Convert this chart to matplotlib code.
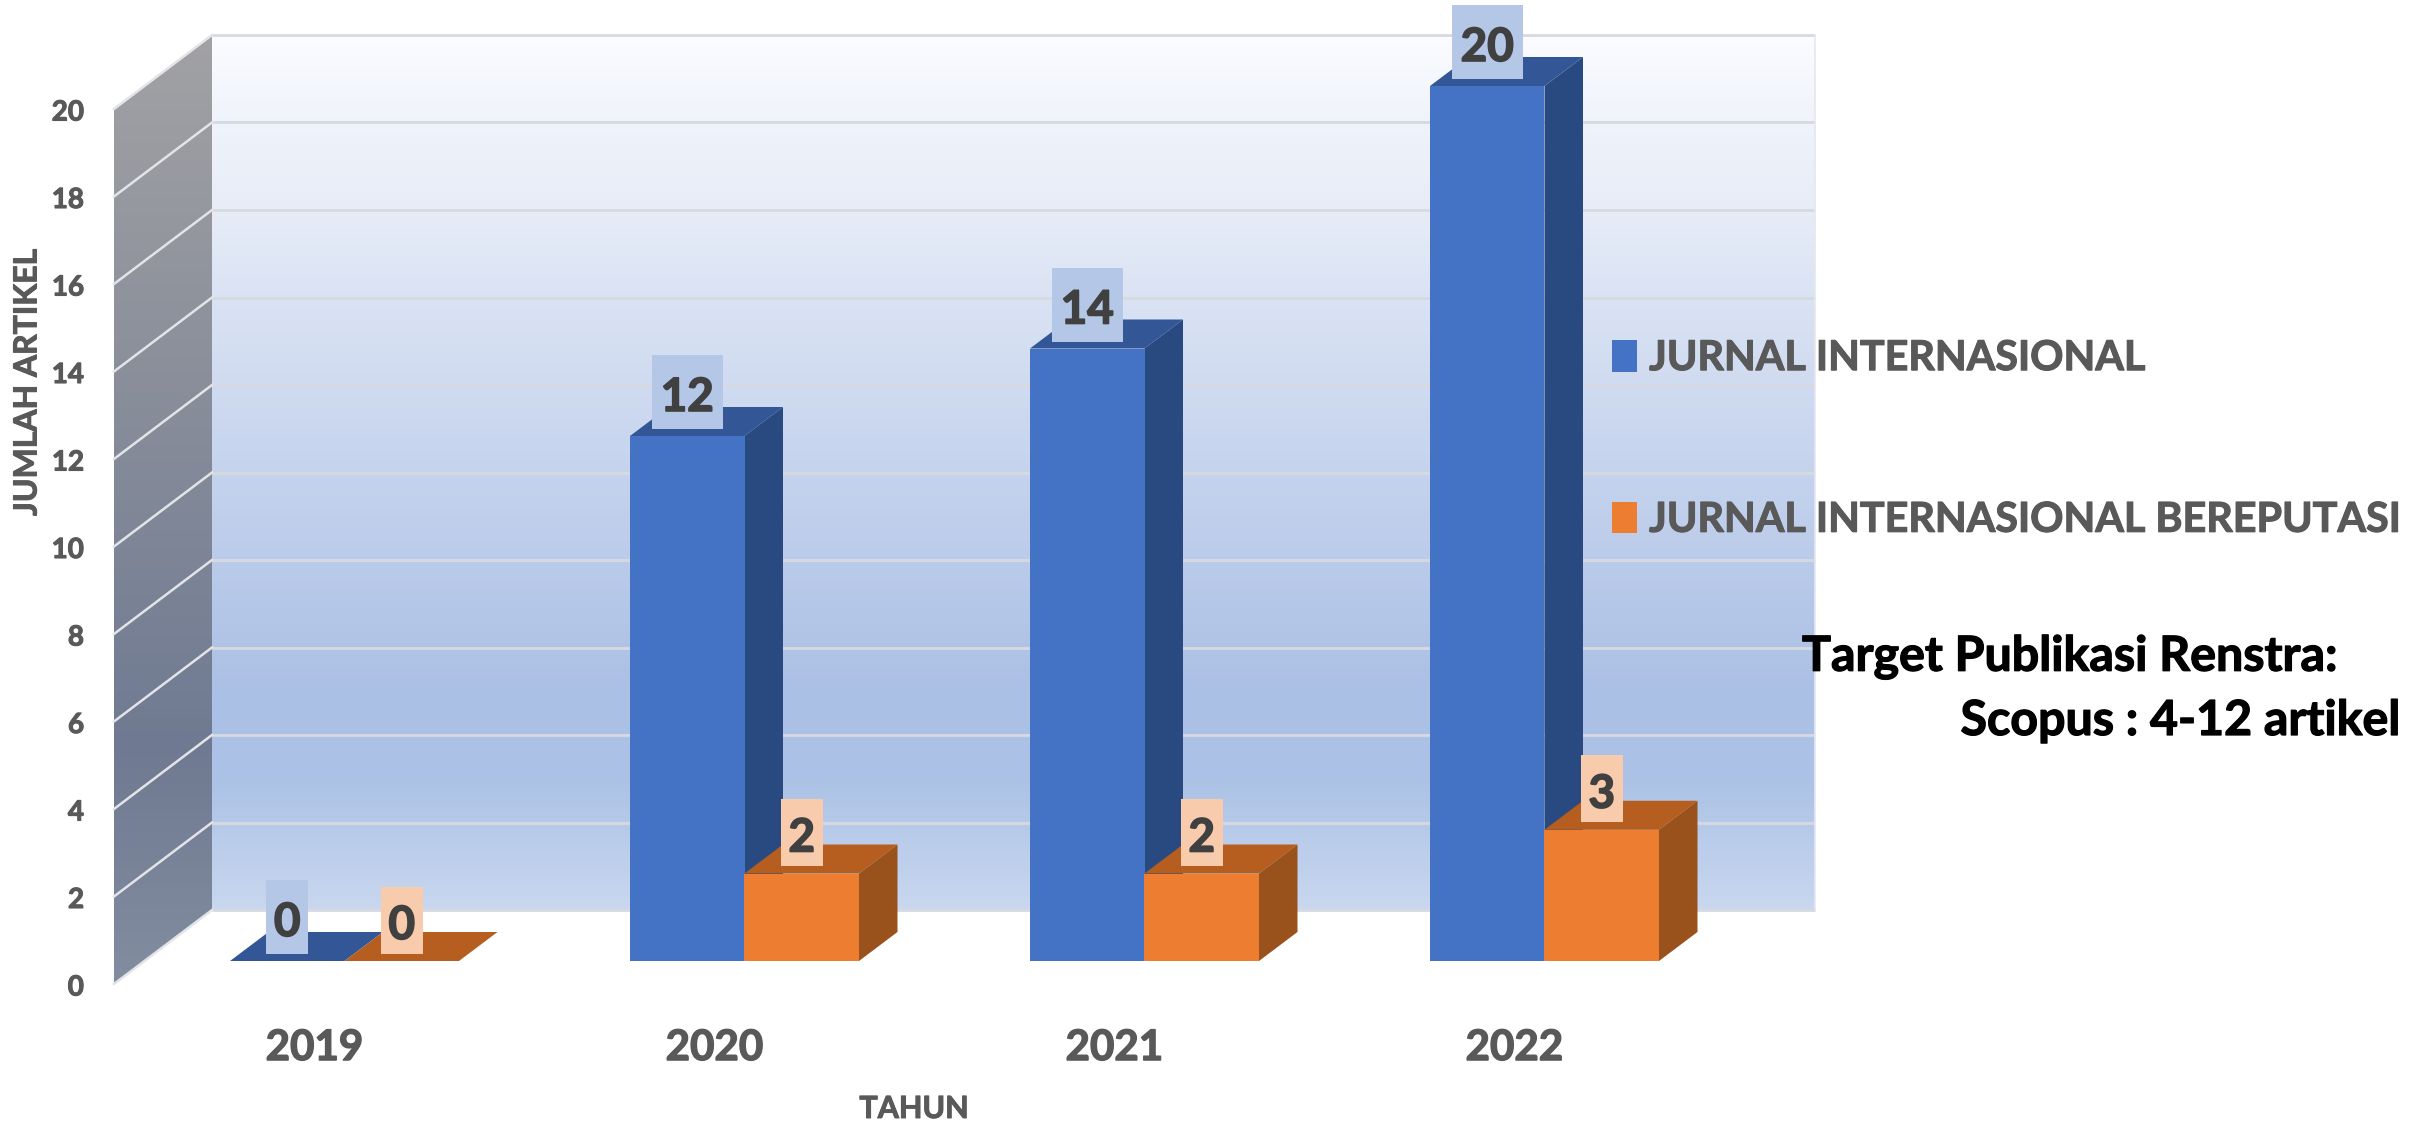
import numpy as np
import matplotlib
matplotlib.use("Agg")
import matplotlib.pyplot as plt
import matplotlib.patheffects as pe
from matplotlib.colors import LinearSegmentedColormap
from matplotlib.patches import Polygon, Rectangle, Patch
from matplotlib.transforms import ScaledTranslation

# ---- data ----
years = ["2019", "2020", "2021", "2022"]
jurnal_internasional = [0, 12, 14, 20]
jurnal_bereputasi = [0, 2, 2, 3]
series_names = ["JURNAL INTERNASIONAL", "JURNAL INTERNASIONAL BEREPUTASI"]
y_ticks = [0, 2, 4, 6, 8, 10, 12, 14, 16, 18, 20]

W, H = 2433, 1121
DPI = 100
plt.rcParams["font.family"] = ["Lato", "DejaVu Sans"]
plt.rcParams["font.weight"] = "bold"

fig = plt.figure(figsize=(W / DPI, H / DPI), dpi=DPI, facecolor="white")

# axes: x in categories, y in article count, on the plane of the bars' front faces
PITCH = 400.0
UNIT = 43.75
X0 = 344.5
BASE = 961.0
left, right = 114.0, 1815.0
ax = fig.add_axes([left / W, (H - BASE) / H, (right - left) / W, 20 * UNIT / H])
ax.patch.set_alpha(0)
for s in ax.spines.values():
    s.set_visible(False)

def px(v):
    return v / PITCH

def py(v):
    return v / UNIT

def X(p):
    return (p - X0) / PITCH

def Y(p):
    return (BASE - p) / UNIT

def heavy(w, c="#595959"):
    return [pe.withStroke(linewidth=w, foreground=c)]

xs = np.arange(len(years))
bar_w = px(114.5)
dep_x, dep_y = px(38.5), py(29)

# back wall
back_cmap = LinearSegmentedColormap.from_list("back", [
    (0.00, "#fbfcff"), (0.10, "#eff3fb"), (0.20, "#e7ecf7"), (0.30, "#dae3f4"),
    (0.50, "#c5d3ed"), (0.75, "#abc0e5"), (0.85, "#abc2e5"), (1.00, "#c9d7ef")])
ax.imshow(np.linspace(0, 1, 256)[:, None], cmap=back_cmap, aspect="auto", origin="upper",
          extent=[X(212), X(1815), Y(910), Y(35)], zorder=1, clip_on=False)

# side wall
side_cmap = LinearSegmentedColormap.from_list("side", [
    (0.00, "#a2a2a5"), (0.30, "#8e929c"), (0.75, "#6f7a92"), (1.00, "#828da0")])
side_im = ax.imshow(np.linspace(0, 1, 256)[:, None], cmap=side_cmap, aspect="auto", origin="upper",
                    extent=[X(114), X(212), Y(984), Y(35)], zorder=1)
side_poly = Polygon([(X(114), Y(984)), (X(212), Y(910)), (X(212), Y(35)), (X(114), Y(109))],
                    closed=True, transform=ax.transData, fc="none", ec="none", clip_on=False)
ax.add_patch(side_poly)
side_im.set_clip_box(fig.bbox)
side_im.set_clip_path(side_poly)

# gridlines on back and side walls
for v in y_ticks:
    by = 910 - v * UNIT
    fy = 984 - v * UNIT
    ax.plot([X(212), X(1815)], [Y(by), Y(by)], color="#d6d9e0", lw=2.0, zorder=2,
            clip_on=False, solid_capstyle="butt")
    ax.plot([X(114), X(212)], [Y(fy), Y(by)], color="#e2e4e8", lw=1.8, zorder=2, clip_on=False)
ax.plot([X(1815), X(1815)], [Y(910), Y(35)], color="#e4e7ee", lw=1.2, zorder=2, clip_on=False)

def bar3d(x0, v, front, top, side, z):
    ax.bar(x0, v, width=bar_w, align="edge", color=front, linewidth=0, zorder=z + 0.2, clip_on=False)
    x1 = x0 + bar_w
    ax.fill([x0, x1, x1 + dep_x, x0 + dep_x], [v, v, v + dep_y, v + dep_y],
            color=top, lw=0, zorder=z + 0.1, clip_on=False)
    if v > 0:
        ax.fill([x1, x1 + dep_x, x1 + dep_x, x1], [0, dep_y, v + dep_y, v],
                color=side, lw=0, zorder=z, clip_on=False)

for i, x in enumerate(xs):
    bar3d(x - bar_w, jurnal_internasional[i], "#4472c4", "#335796", "#294a80", 3 + i)
    bar3d(x, jurnal_bereputasi[i], "#ed7d31", "#b55e20", "#99521b", 3.5 + i)

# data labels on coloured boxes
def label(x, v, fc, off, bh):
    txt = str(v)
    bw = 71 if len(txt) == 2 else 42
    ax.add_patch(Rectangle((x - px(bw / 2), v + py(off) - py(bh / 2)), px(bw), py(bh),
                           fc=fc, ec="none", zorder=20, clip_on=False))
    ax.text(x, v + py(off - 2), txt, ha="center", va="center_baseline", fontsize=33,
            color="#404040", zorder=21, clip_on=False,
            path_effects=[pe.withStroke(linewidth=1.2, foreground="#404040")])

for i, x in enumerate(xs):
    label(x - bar_w / 2, jurnal_internasional[i], "#b4c7e7", 44, 74)
    label(x + bar_w / 2, jurnal_bereputasi[i], "#f8cbad", 41, 67)

ax.set_xlim(X(left), X(right))
ax.set_ylim(0, 20)

# ticks
ax.set_xticks(xs)
ax.set_xticklabels(years, fontsize=30.3, color="#595959", fontweight="bold")
ax.tick_params(axis="x", length=0, pad=49)
ax.set_yticks(y_ticks)
ax.set_yticklabels([str(v) for v in y_ticks], fontsize=20, color="#595959", fontweight="bold")
ax.tick_params(axis="y", length=0, pad=21.6)
for t in ax.get_xticklabels():
    t.set_transform(t.get_transform() + ScaledTranslation(-30 / DPI, 0, fig.dpi_scale_trans))
    t.set_path_effects(heavy(1.0))
for t in ax.get_yticklabels():
    t.set_transform(t.get_transform() + ScaledTranslation(0, -24 / DPI, fig.dpi_scale_trans))
    t.set_path_effects(heavy(0.8))

# axis titles
ax.set_ylabel("JUMLAH ARTIKEL", fontsize=23, color="#595959", fontweight="bold",
              path_effects=heavy(0.7))
ax.yaxis.set_label_coords(27 / W, (H - 382) / H, transform=fig.transFigure)
ax.yaxis.label.set_va("center")
ax.set_xlabel("TAHUN", fontsize=22, color="#595959", fontweight="bold",
              path_effects=heavy(0.7))
ax.xaxis.set_label_coords(914 / W, (H - 1109) / H, transform=fig.transFigure)
ax.xaxis.label.set_va("center")

# legend
handles = [Patch(fc="#4472c4", ec="none"), Patch(fc="#ed7d31", ec="none")]
leg = fig.legend(handles, series_names, loc="upper left",
                 bbox_to_anchor=(1612 / W, (H - 340) / H), frameon=False,
                 fontsize=29.7, labelcolor="#595959", handlelength=0.6, handleheight=0.8,
                 handletextpad=0.3, labelspacing=3.02, borderpad=0, borderaxespad=0)
leg.set_zorder(30)
for t in leg.get_texts():
    t.set_path_effects(heavy(0.8))

# annotation
fig.text(1802 / W, (H - 657) / H, "Target Publikasi Renstra:", fontsize=34.8, color="black",
         ha="left", va="center", fontweight="bold", zorder=30, path_effects=heavy(0.9, "black"))
fig.text(2401 / W, (H - 721) / H, "Scopus : 4-12 artikel", fontsize=34.8, color="black",
         ha="right", va="center", fontweight="bold", zorder=30, path_effects=heavy(0.9, "black"))

fig.savefig("out.png", dpi=DPI, facecolor="white")
